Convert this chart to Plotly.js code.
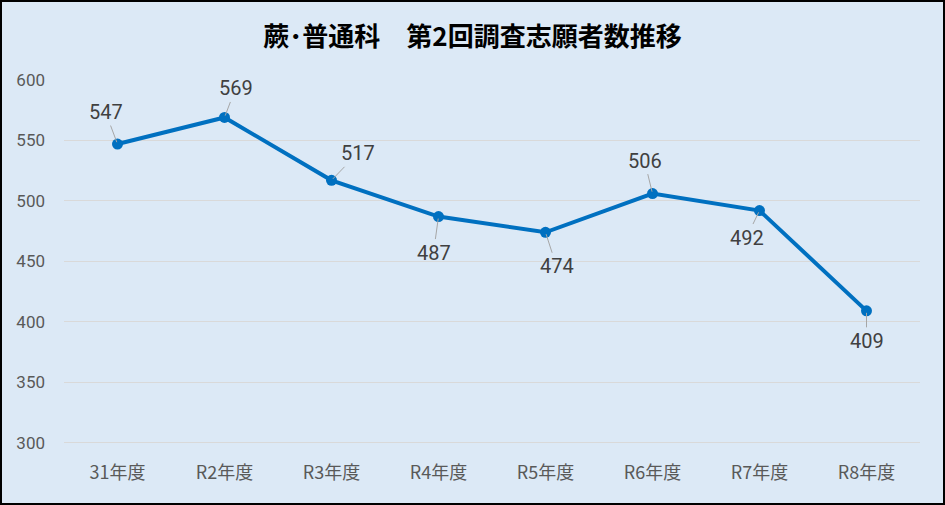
<!DOCTYPE html>
<html><head><meta charset="utf-8">
<script src="https://cdn.plot.ly/plotly-3.0.1.min.js"></script>
<style>
html,body{margin:0;padding:0;background:#fff;}
#chart{width:941px;height:501px;border:2px solid #000;}
</style></head>
<body><div id="chart"></div>
<script>
const categories = ["31年度","R2年度","R3年度","R4年度","R5年度","R6年度","R7年度","R8年度"];
const applicants = [547,569,517,487,474,506,492,409];
const labelOffsetX = [-12, 11, 26, -5, 11, -8, -13, 0];
const labelOffsetY = [-32, -29, -27, 36, 34, -33, 27, 30];

const trace = {
  x: categories, y: applicants, type: 'scatter', mode: 'lines+markers',
  line: {color: '#0070C0', width: 4},
  marker: {color: '#0070C0', size: 11},
  hoverinfo: 'skip'
};

const annotations = categories.map((c, i) => ({
  x: c, y: applicants[i], xref: 'x', yref: 'y',
  text: String(applicants[i]),
  showarrow: true, arrowhead: 0, arrowwidth: 1, arrowcolor: '#A6A6A6',
  ax: labelOffsetX[i], ay: labelOffsetY[i], standoff: 2,
  font: {family: 'Roboto, "Noto Sans", sans-serif', size: 20, color: '#404040'}
}));

const layout = {
  width: 941, height: 501,
  paper_bgcolor: '#DCE9F6', plot_bgcolor: '#DCE9F6',
  margin: {l: 62, r: 23, t: 78, b: 58},
  title: {text: '蕨･普通科　第2回調査志願者数推移', x: 0.5, xanchor: 'center', y: 0.931, yanchor: 'middle',
    font: {family: '"Noto Sans CJK JP", sans-serif', size: 26, color: '#000', weight: 'bold'}},
  xaxis: {type: 'category', range: [-0.5, 7.5], showgrid: false, zeroline: false, showline: false,
    ticks: '', ticklabelstandoff: 15,
    tickfont: {family: '"Noto Sans CJK JP", sans-serif', size: 18, color: '#595959'}},
  yaxis: {range: [298, 600], dtick: 50, tick0: 300, showgrid: true, gridcolor: '#D9D9D9', gridwidth: 1,
    zeroline: false, showline: false, ticks: '', ticklabelstandoff: 18,
    tickfont: {family: 'Roboto, "Noto Sans", sans-serif', size: 17, color: '#595959'}},
  annotations: annotations,
  showlegend: false
};
Plotly.newPlot('chart', [trace], layout, {displayModeBar: false, staticPlot: true});
</script></body></html>
